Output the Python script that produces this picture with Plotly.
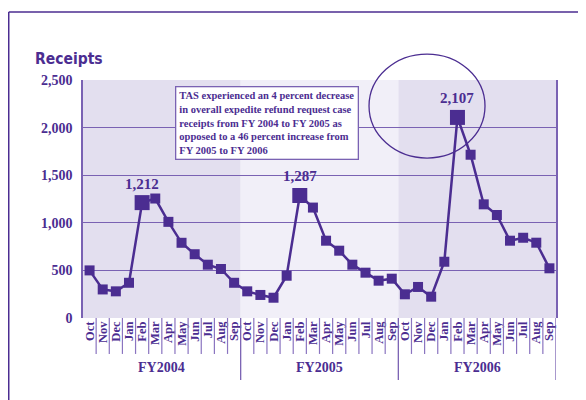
import plotly.graph_objects as go

months = ["Oct", "Nov", "Dec", "Jan", "Feb", "Mar", "Apr", "May", "Jun", "Jul", "Aug", "Sep"]
fiscal_years = ["FY2004", "FY2005", "FY2006"]
fy2004 = [500, 300, 280, 370, 1212, 1255, 1010, 790, 670, 560, 515, 370]
fy2005 = [280, 242, 213, 444, 1287, 1160, 812, 707, 560, 476, 392, 413]
fy2006 = [249, 326, 224, 591, 2107, 1715, 1194, 1082, 812, 843, 791, 522]
y_ticks = [0, 500, 1000, 1500, 2000, 2500]
note_text = ("TAS experienced an 4 percent decrease<br>in overall expedite refund request case<br>"
             "receipts from FY 2004 to FY 2005 as<br>opposed to a 46 percent increase from<br>FY 2005 to FY 2006")

PURPLE = "#4b2d91"
GRID = "#7a62b3"
SERIF = "Liberation Serif, Times New Roman, serif"

values = fy2004 + fy2005 + fy2006
xs = list(range(len(values)))
labels = months * 3
big = [i for i, m in enumerate(labels) if m == "Feb"]
sizes = [15 if i in big else 10 for i in xs]

fig = go.Figure()
fig.add_trace(go.Scatter(
    x=xs, y=values, mode="lines+markers",
    line=dict(color=PURPLE, width=2.5),
    marker=dict(symbol="square", size=sizes, color=PURPLE, opacity=1, line=dict(width=0)),
    cliponaxis=False, hoverinfo="skip"))

shapes = []
band_colors = ["#e3dfef", "#f1eff8", "#e3dfef"]
for k in range(3):
    shapes.append(dict(type="rect", xref="x", yref="paper", x0=k * 12 - 0.5, x1=k * 12 + 11.5,
                       y0=0, y1=1, fillcolor=band_colors[k], line=dict(width=0), layer="below"))
# month separators
for i in range(35):
    xb = i + 0.5
    if (i + 1) % 12 == 0:
        continue
    shapes.append(dict(type="line", xref="x", yref="paper", x0=xb, x1=xb, y0=0, y1=-0.151,
                       line=dict(color="#8a74c0", width=1.2)))
# fiscal year separators
for xb in [11.5, 23.5, 35.5]:
    shapes.append(dict(type="line", xref="x", yref="paper", x0=xb, x1=xb, y0=0, y1=-0.26,
                       line=dict(color="#7a62b3", width=1.3)))
# outer frame
shapes.append(dict(type="line", xref="paper", yref="paper", x0=-0.1570, x1=1.08, y0=1.2857, y1=1.2857,
                   line=dict(color=PURPLE, width=1.5)))
shapes.append(dict(type="line", xref="paper", yref="paper", x0=-0.1570, x1=-0.1570, y0=1.2857, y1=-0.4,
                   line=dict(color=PURPLE, width=1.5)))
# ellipse highlight
shapes.append(dict(type="circle", xref="paper", yref="paper", x0=0.6047, x1=0.8499, y0=0.672, y1=1.109,
                   line=dict(color=PURPLE, width=1.3)))

annotations = []
for i in big:
    annotations.append(dict(x=xs[i], y=values[i], xref="x", yref="y", text=f"{values[i]:,}",
                            showarrow=False, yshift=19, yanchor="middle",
                            font=dict(family=SERIF, size=15, color=PURPLE, weight="bold")))
for k, fy in enumerate(fiscal_years):
    annotations.append(dict(x=k * 12 + 5.5, y=-0.21, xref="x", yref="paper", text=fy,
                            xanchor="center", yanchor="middle", showarrow=False,
                            font=dict(family=SERIF, size=14, color=PURPLE, weight="bold")))
annotations.append(dict(x=-0.1057, y=1.088, xref="paper", yref="paper", text="Receipts",
                        xanchor="left", yanchor="middle", showarrow=False,
                        font=dict(family="DejaVu Sans Condensed, Liberation Sans Narrow, Arial Narrow, sans-serif",
                                  size=15.5, color=PURPLE, weight="bold")))
annotations.append(dict(x=0.1945, y=0.975, xref="paper", yref="paper", text=note_text,
                        xanchor="left", yanchor="top", align="left", showarrow=False,
                        bgcolor="white", bordercolor=GRID, borderwidth=1.3, borderpad=3,
                        font=dict(family=SERIF, size=10.5, color=PURPLE, weight="bold")))

fig.update_layout(
    width=578, height=392,
    margin=dict(l=75, r=30, t=72, b=82),
    paper_bgcolor="white", plot_bgcolor="white",
    showlegend=False,
    shapes=shapes, annotations=annotations,
    xaxis=dict(range=[-0.5, 35.5], tickmode="array", tickvals=xs, ticktext=labels,
               tickangle=-90, tickfont=dict(family=SERIF, size=12.5, color=PURPLE, weight="bold"),
               showgrid=False, zeroline=False, showline=False, ticks="", fixedrange=True),
    yaxis=dict(range=[0, 2500], tickmode="array", tickvals=y_ticks, tickformat=",",
               tickfont=dict(family=SERIF, size=14, color=PURPLE, weight="bold"),
               showgrid=True, gridcolor=GRID, gridwidth=1.3, zeroline=False,
               showline=True, linecolor=GRID, linewidth=1.5, mirror=True, ticks="", ticklabelstandoff=6),
)

fig.write_html("out.html")
